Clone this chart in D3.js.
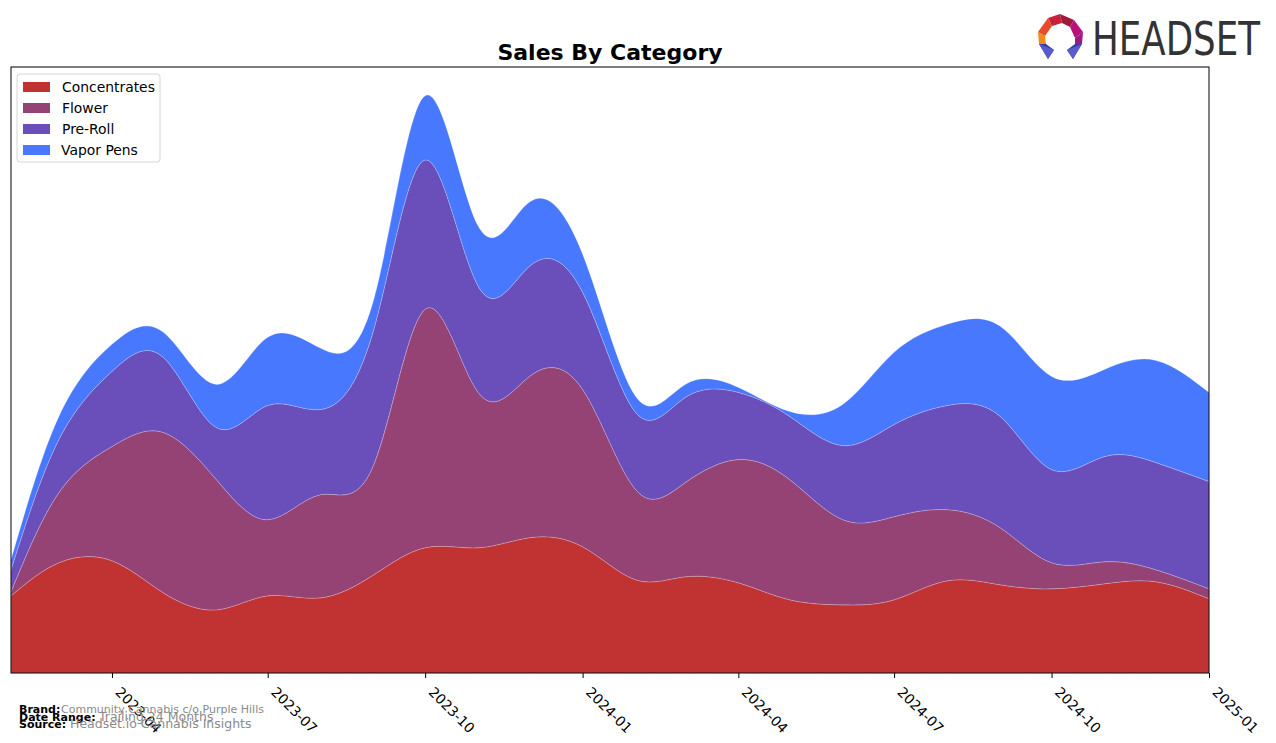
<!DOCTYPE html>
<html>
<head>
<meta charset="utf-8">
<script src="https://cdn.jsdelivr.net/npm/d3@7"></script>
<style>
  body { margin: 0; background: #fff; }
  svg { display: block; font-family: "DejaVu Sans", sans-serif; }
</style>
</head>
<body>
<div id="chart"></div>
<script>
// monthly values (arbitrary sales units)
const months = [
  "2023-02", "2023-03", "2023-04", "2023-05", "2023-06", "2023-07",
  "2023-08", "2023-09", "2023-10", "2023-11", "2023-12", "2024-01",
  "2024-02", "2024-03", "2024-04", "2024-05", "2024-06", "2024-07",
  "2024-08", "2024-09", "2024-10", "2024-11", "2024-12", "2025-01"
];
const categories = ["Concentrates", "Flower", "Pre-Roll", "Vapor Pens"];

const concentrates = [77, 110, 112, 80, 63, 77, 75, 98, 125, 125, 135, 126, 93, 96, 90, 73, 68, 73, 92, 88, 84, 89, 91, 74];
const flower       = [4, 70, 114, 160, 130, 76, 103, 110, 238, 155, 161, 157, 90, 94, 123, 120, 85, 83, 71, 57, 26, 22, 12, 10];
const preRoll      = [22, 53, 75, 75, 52, 114, 85, 135, 149, 106, 110, 97, 77, 85, 67, 63, 74, 92, 104, 111, 93, 105, 107, 107];
const vaporPens    = [10, 23, 27, 25, 43, 68, 61, 30, 64, 60, 64, 38, 16, 13, 5, 5, 41, 72, 81, 90, 93, 87, 102, 89];

const tickLabels = ["2023-04", "2023-07", "2023-10", "2024-01", "2024-04", "2024-07", "2024-10", "2025-01"];

const catColors = {
  "Concentrates": "#c13232",
  "Flower": "#954275",
  "Pre-Roll": "#6a4fbb",
  "Vapor Pens": "#4878fe"
};

const width = 1276;
const height = 743;
const margin = { top: 67, right: 67, bottom: 70, left: 11 };
const innerWidth = width - margin.left - margin.right;
const innerHeight = height - margin.top - margin.bottom;

const parseMonth = d3.timeParse("%Y-%m");

const rows = months.map((m, i) => ({
  date: parseMonth(m),
  "Concentrates": concentrates[i],
  "Flower": flower[i],
  "Pre-Roll": preRoll[i],
  "Vapor Pens": vaporPens[i]
}));

const series = d3.stack().keys(categories)(rows);

const svg = d3.select("#chart")
  .append("svg")
  .attr("width", width)
  .attr("height", height);

const g = svg.append("g")
  .attr("transform", `translate(${margin.left},${margin.top})`);

const x = d3.scaleTime()
  .domain(d3.extent(rows, d => d.date))
  .range([0, innerWidth]);

const maxTotal = d3.max(series[series.length - 1], d => d[1]);
const y = d3.scaleLinear()
  .domain([0, maxTotal * 1.05])
  .range([innerHeight, 0]);

const area = d3.area()
  .curve(d3.curveNatural)
  .x(d => x(d.data.date))
  .y0(d => y(d[0]))
  .y1(d => y(d[1]));

g.append("clipPath")
  .attr("id", "plotclip")
  .append("rect")
  .attr("width", innerWidth)
  .attr("height", innerHeight);

g.append("g")
  .attr("clip-path", "url(#plotclip)")
  .selectAll("path")
  .data(series)
  .enter()
  .append("path")
  .attr("d", area)
  .attr("fill", d => catColors[d.key])
  .attr("stroke", "#ffffff")
  .attr("stroke-opacity", 0.35)
  .attr("stroke-width", 0.6);

// frame
g.append("rect")
  .attr("width", innerWidth)
  .attr("height", innerHeight)
  .attr("fill", "none")
  .attr("stroke", "#000")
  .attr("stroke-width", 1);

// x axis
const tickDates = tickLabels.map(parseMonth);
const xAxis = g.append("g")
  .attr("transform", `translate(0,${innerHeight})`)
  .call(d3.axisBottom(x).tickValues(tickDates).tickFormat(d3.timeFormat("%Y-%m")).tickSize(5).tickSizeOuter(0));

xAxis.select(".domain").remove();
xAxis.selectAll("line").attr("stroke", "#000");
xAxis.selectAll("text")
  .attr("fill", "#000")
  .style("font-size", "13.9px")
  .style("font-family", "DejaVu Sans, sans-serif")
  .attr("text-anchor", "start")
  .attr("x", 0)
  .attr("y", 0)
  .attr("dy", "0")
  .attr("transform", "translate(2,20) rotate(45)");

// title
svg.append("text")
  .attr("x", margin.left + innerWidth / 2)
  .attr("y", 60)
  .attr("text-anchor", "middle")
  .style("font-size", "22px")
  .style("font-weight", "bold")
  .text("Sales By Category");

// legend
const legend = svg.append("g")
  .attr("transform", "translate(17,74)");

legend.append("rect")
  .attr("width", 143)
  .attr("height", 88)
  .attr("rx", 3)
  .attr("fill", "#fff")
  .attr("fill-opacity", 0.8)
  .attr("stroke", "#d6d6d6");

categories.forEach((c, i) => {
  const row = legend.append("g")
    .attr("transform", `translate(0,${13 + i * 21})`);
  row.append("rect")
    .attr("x", 6)
    .attr("y", -5)
    .attr("width", 27)
    .attr("height", 10)
    .attr("fill", catColors[c]);
  row.append("text")
    .attr("x", c === "Vapor Pens" ? 44 : 45)
    .attr("y", 5)
    .style("font-size", "13.9px")
    .text(c);
});

// footer
const foot = svg.append("g");
const footRows = [
  { label: "Brand:", value: "Community Cannabis c/o Purple Hills", y: 713, vx: 61, vs: 11 },
  { label: "Date Range:", value: "Trailing 24 Months", y: 721, vx: 99, vs: 12.5 },
  { label: "Source:", value: "Headset.io Cannabis Insights", y: 728, vx: 70, vs: 12.5 }
];
footRows.forEach(r => {
  foot.append("text")
    .attr("x", 19)
    .attr("y", r.y)
    .style("font-size", "11px")
    .style("font-weight", "bold")
    .text(r.label);
  foot.append("text")
    .attr("x", r.vx)
    .attr("y", r.y)
    .attr("fill", "#8a8a8a")
    .style("font-size", r.vs + "px")
    .text(r.value);
});

// logo
const logo = svg.append("g").attr("transform", "translate(1038,14)");
const logoParts = [
  { pts: "10,4 22,0 24,9 14,12", fill: "#c8203a" },
  { pts: "22,0 36,6 32,13 24,9", fill: "#a0183c" },
  { pts: "36,6 45,18 37,24 32,13", fill: "#b8127a" },
  { pts: "10,4 14,12 7,22 0,18", fill: "#e84a2a" },
  { pts: "0,18 7,22 8,30 1,30", fill: "#f28a22" },
  { pts: "45,18 44,30 37,30 37,24", fill: "#9a1a8a" },
  { pts: "1,30 8,30 16,36 10,45", fill: "#3a3aa0" },
  { pts: "1,30 16,36 10,45", fill: "#5a5ad0" },
  { pts: "44,30 37,30 29,36 35,45", fill: "#3a3aa0" },
  { pts: "44,30 29,36 35,45", fill: "#5a5ad0" }
];
logoParts.forEach(p => {
  logo.append("polygon").attr("points", p.pts).attr("fill", p.fill);
});
svg.append("text")
  .attr("x", 1092)
  .attr("y", 55)
  .attr("textLength", 168)
  .attr("lengthAdjust", "spacingAndGlyphs")
  .attr("fill", "#333")
  .style("font-size", "47px")
  .style("font-family", "Liberation Sans Narrow, DejaVu Sans Condensed, sans-serif")
  .text("HEADSET");
</script>
</body>
</html>
